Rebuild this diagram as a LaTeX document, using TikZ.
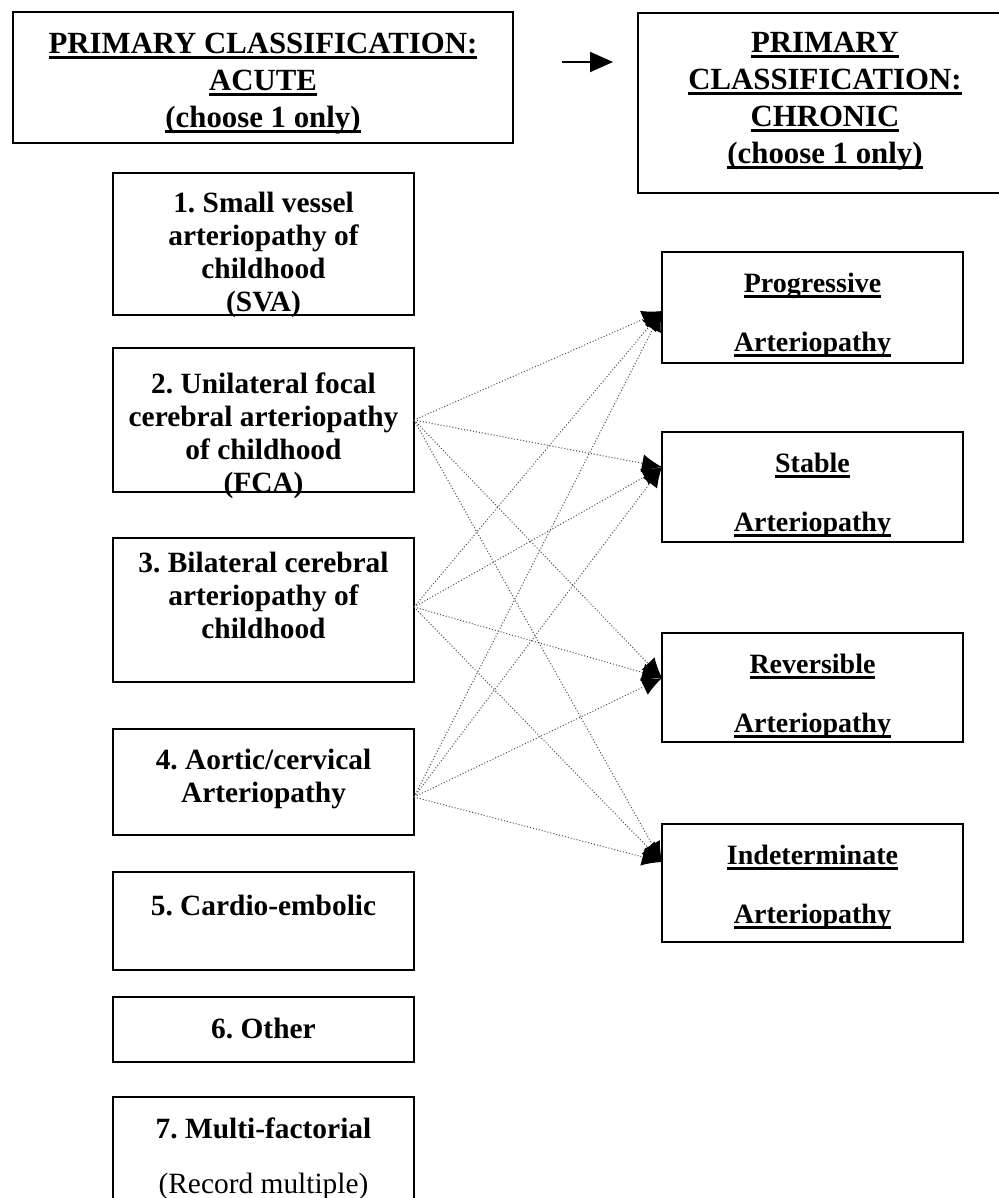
\documentclass[tikz,border=0pt]{standalone}
\usepackage{fontspec}
\setmainfont{Liberation Serif}
\usetikzlibrary{arrows.meta}
\frenchspacing

% heavy underline and top-aligned box text
\newcommand{\ulbar}[1]{\leavevmode\setbox0\hbox{#1}\rlap{\rule[-2.8pt]{\wd0}{1.4pt}}\box0}
\newcommand{\boxtext}[4]{\parbox[c][#2][t]{#1}{\centering\vspace*{#3}\leavevmode#4\par}}

\begin{document}
\begin{tikzpicture}[x=0.5pt, y=-0.5pt,
    every node/.style={inner sep=0pt, outer sep=0pt},
    headbox/.style={draw, line width=.9pt, anchor=north west, font=\fontsize{15.4}{18.5}\selectfont\bfseries},
    typebox/.style={draw, line width=.9pt, anchor=north west, font=\fontsize{14.7}{16.5}\selectfont\bfseries},
    coursebox/.style={typebox, font=\fontsize{14}{16.5}\selectfont\bfseries},
    link/.style={densely dotted, black!70, line width=.5pt, -{Latex[length=10pt,width=9pt,color=black]}}]
    \useasboundingbox (0,0) rectangle (999,1198);

    % Heading boxes
    \node[headbox] (acute) at (13,12) {\boxtext{250pt}{65.5pt}{10.6pt}{\ulbar{PRIMARY CLASSIFICATION:}\\\ulbar{ACUTE}\\\ulbar{(choose 1 only)}}};
    \node[headbox] (chronic) at (638,13) {\boxtext{187pt}{90pt}{9.6pt}{\ulbar{PRIMARY}\\\ulbar{CLASSIFICATION:}\\\ulbar{CHRONIC}\\\ulbar{(choose 1 only)}}};
    \coordinate (arrS) at (562,62);
    \coordinate (arrE) at (613,62);
    \draw[line width=1pt, -{Triangle[length=11.5pt,width=10pt]}] (arrS) -- (arrE);

    % Acute types
    \node[typebox] (b1) at (113,173) {\boxtext{150.5pt}{71pt}{9.4pt}{1. Small vessel\\arteriopathy of\\childhood\\(SVA)}};
    \node[typebox] (b2) at (113,348) {\boxtext{150.5pt}{72pt}{12.4pt}{2. Unilateral focal\\cerebral arteriopathy\\of childhood\\(FCA)}};
    \node[typebox] (b3) at (113,538) {\boxtext{150.5pt}{72pt}{6.9pt}{3. Bilateral cerebral\\arteriopathy of\\childhood}};
    \node[typebox] (b4) at (113,729) {\boxtext{150.5pt}{53pt}{10.2pt}{4. Aortic/cervical\\Arteriopathy}};
    \node[typebox] (b5) at (113,872) {\boxtext{150.5pt}{49pt}{11.4pt}{5. Cardio-embolic}};
    \node[typebox] (b6) at (113,997) {\boxtext{150.5pt}{32.5pt}{10.4pt}{6. Other}};
    \node[typebox] (b7) at (113,1097) {\boxtext{150.5pt}{66.5pt}{10.4pt}{7. Multi-factorial\\[11pt]\mdseries(Record multiple)}};

    % Chronic types
    \node[coursebox] (prog) at (662,252) {\boxtext{150.5pt}{55.5pt}{10.3pt}{\ulbar{Progressive}\\[13pt]\ulbar{Arteriopathy}}};
    \node[coursebox] (stab) at (662,432) {\boxtext{150.5pt}{55pt}{10.3pt}{\ulbar{Stable}\\[13pt]\ulbar{Arteriopathy}}};
    \node[coursebox] (rev) at (662,633) {\boxtext{150.5pt}{54.5pt}{10.3pt}{\ulbar{Reversible}\\[13pt]\ulbar{Arteriopathy}}};
    \node[coursebox] (ind) at (662,824) {\boxtext{150.5pt}{59pt}{10.5pt}{\ulbar{Indeterminate}\\[13pt]\ulbar{Arteriopathy}}};

    % every acute arteriopathy may become any chronic course
    \foreach \s/\sy in {b2/0pt, b3/1.5pt, b4/-7.5pt}
        \foreach \t/\ty in {prog/-1.75pt, stab/10pt, rev/4.75pt, ind/10.5pt}
            \draw[link] ([yshift=\sy]\s.east) -- ([yshift=\ty]\t.west);

\end{tikzpicture}
\end{document}
